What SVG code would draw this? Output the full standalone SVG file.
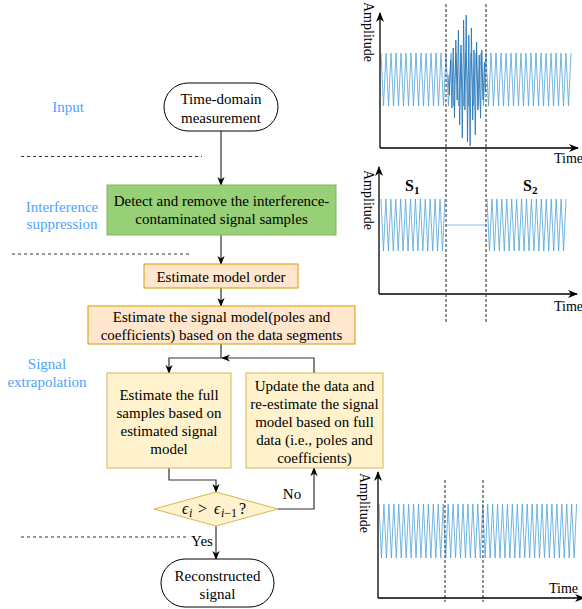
<svg xmlns="http://www.w3.org/2000/svg" width="582" height="609" viewBox="0 0 582 609" font-family="'Liberation Serif','Times New Roman',serif">
<defs>
<style>
text{font-family:"Liberation Serif","Times New Roman",serif;font-size:15px;fill:#000}
.c{text-anchor:middle}
.lbl{fill:#4da3ff;text-anchor:middle}
.ax{font-size:14px}
.m{font-size:16px;font-style:italic}
.s{font-size:12px;font-style:italic}
.term{fill:#fff;stroke:#000;stroke-width:1}
.peach{fill:#ffe6cc;stroke:#d79b00;stroke-width:1}
.yel{fill:#fff2cc;stroke:#d6b656;stroke-width:1}
.grn{fill:#97d077;stroke:#82b366;stroke-width:1}
.edge{fill:none;stroke:#333;stroke-width:1.2;marker-end:url(#ah)}
.sep{fill:none;stroke:#333;stroke-width:1;stroke-dasharray:3 3}
.vd{fill:none;stroke:#555;stroke-width:1.3;stroke-dasharray:3 2}
.axis{fill:none;stroke:#000;stroke-width:1.3;marker-end:url(#ax)}
.wave{fill:none;stroke:#4fa3dc;stroke-width:0.8}
</style>
<marker id="ah" viewBox="0 0 10 10" refX="9" refY="5" markerWidth="9" markerHeight="9" orient="auto" markerUnits="userSpaceOnUse"><path d="M0,1 L10,5 L0,9 L3,5 z" fill="#000"/></marker>
<marker id="ax" viewBox="0 0 10 10" refX="9" refY="5" markerWidth="10" markerHeight="10" orient="auto" markerUnits="userSpaceOnUse"><path d="M0,1 L10,5 L0,9 L3,5 z" fill="#000"/></marker>
</defs>

<!-- stage labels and separators -->
<g id="stages">
<text class="lbl" x="68" y="112">Input</text>
<text class="lbl" x="62" y="212">Interference</text>
<text class="lbl" x="62" y="229">suppression</text>
<text class="lbl" x="47" y="369">Signal</text>
<text class="lbl" x="47" y="387">extrapolation</text>
<path class="sep" d="M21,156.5 H202"/>
<path class="sep" d="M12,254 H192"/>
<path class="sep" d="M21,537 H188"/>
</g>

<g id="connectors">
<path class="edge" d="M221,131 V185"/>
<path class="edge" d="M221,235 V264"/>
<path class="edge" d="M221,288 V306"/>
<path class="edge" d="M221,344 V358 H169 V373"/>
<path class="edge" d="M314,373 V358 H222"/>
<path class="edge" d="M169,468 V480 H216 V492"/>
<path class="edge" d="M278,509 H314 V468"/>
<path class="edge" d="M216,526 V559"/>
<text x="292" y="499" class="c">No</text>
<text x="202" y="546" class="c">Yes</text>
</g>

<g id="start">
<rect class="term" x="164" y="83" width="114" height="48" rx="24"/>
<text class="c" x="221" y="104">Time-domain</text>
<text class="c" x="221" y="123">measurement</text>
</g>

<g id="detect">
<rect class="grn" x="107" y="185" width="229" height="50"/>
<text class="c" x="221.5" y="206">Detect and remove the interference-</text>
<text class="c" x="221.5" y="224">contaminated signal samples</text>
</g>

<g id="order">
<rect class="peach" x="144" y="264" width="154" height="24"/>
<text class="c" x="221" y="282">Estimate model order</text>
</g>

<g id="model">
<rect class="peach" x="88" y="306" width="267" height="38"/>
<text class="c" x="221.5" y="322">Estimate the signal model(poles and</text>
<text class="c" x="221.5" y="340">coefficients) based on the data segments</text>
</g>

<g id="full">
<rect class="yel" x="107" y="373" width="124" height="95"/>
<text class="c" x="169" y="400">Estimate the full</text>
<text class="c" x="169" y="418">samples based on</text>
<text class="c" x="169" y="436">estimated signal</text>
<text class="c" x="169" y="454">model</text>
</g>

<g id="update">
<rect class="yel" x="246" y="373" width="137" height="95"/>
<text class="c" x="314.5" y="391">Update the data and</text>
<text class="c" x="314.5" y="409">re-estimate the signal</text>
<text class="c" x="314.5" y="427">model based on full</text>
<text class="c" x="314.5" y="445">data (i.e., poles and</text>
<text class="c" x="314.5" y="463">coefficients)</text>
</g>

<g id="decision">
<polygon class="yel" points="154,509 216,492 278,509 216,526"/>
<text class="m" x="182" y="514">ϵ</text>
<text class="s" x="189" y="517">i</text>
<text x="198" y="514" style="font-size:16px">&gt;</text>
<text class="m" x="214" y="514">ϵ</text>
<text class="s" x="221" y="517">i<tspan style="font-style:normal">−1</tspan></text>
<text x="239" y="514" style="font-size:16px">?</text>
</g>

<g id="end">
<rect class="term" x="161" y="559" width="113" height="48" rx="24"/>
<text class="c" x="217.5" y="581">Reconstructed</text>
<text class="c" x="217.5" y="599">signal</text>
</g>

<!-- plot 1: measurement with interference -->
<g id="plot1">
<path class="wave" d="M381,53 l2.5,53 2.5,-53 2.5,53 2.5,-53 2.5,53 2.5,-53 2.5,53 2.5,-53 2.5,53 2.5,-53 2.5,53 2.5,-53 2.5,53 2.5,-53 2.5,53 2.5,-53 2.5,53 2.5,-53 2.5,53 2.5,-53 2.5,53 2.5,-53 2.5,53 2.5,-53 2.5,53 2.5,-53 2.5,53 2.5,-53 2.5,53 2.5,-53 2.5,53 2.5,-53 2.5,53 2.5,-53 2.5,53 2.5,-53 2.5,53 2.5,-53 2.5,53 2.5,-53 2.5,53 2.5,-53 2.5,53 2.5,-53 2.5,53 2.5,-53 2.5,53 2.5,-53 2.5,53 2.5,-53 2.5,53 2.5,-53 2.5,53 2.5,-53 2.5,53 2.5,-53 2.5,53 2.5,-53 2.5,53 2.5,-53 2.5,53 2.5,-53 2.5,53 2.5,-53 2.5,53 2.5,-53 2.5,53 2.5,-53 2.5,53 2.5,-53 2.5,53 2.5,-53 2.5,53 2.5,-53 2.5,53 2.5,-53"/>
<path fill="none" stroke="#1f6fb2" stroke-width="0.9" stroke-opacity="0.9" d="M448,75 L449.3,95 450.6,60 451.9,108 453.2,48 454.5,118 455.8,40 457.1,100 458.4,30 459.7,125 461,45 462.3,138 463.6,20 464.9,110 466.2,15 467.5,142 468.8,35 470.1,146 471.4,28 472.7,120 474,50 475.3,135 476.6,42 477.9,110 479.2,55 480.5,118 481.8,50 483.1,100 484.4,62 485.7,92"/>
<path class="axis" d="M380,148 V13"/>
<path class="axis" d="M380,148 H578"/>
<text class="ax" transform="translate(364,2) rotate(90)">Amplitude</text>
<text class="ax" x="554" y="163">Time</text>
</g>

<!-- plot 2: segments -->
<g id="plot2">
<path class="wave" d="M381,199 l2.46,52 2.46,-52 2.46,52 2.46,-52 2.46,52 2.46,-52 2.46,52 2.46,-52 2.46,52 2.46,-52 2.46,52 2.46,-52 2.46,52 2.46,-52 2.46,52 2.46,-52 2.46,52 2.46,-52 2.46,52 2.46,-52 2.46,52 2.46,-52 2.46,52 2.46,-52 2.46,52 2.46,-52"/>
<path class="wave" d="M487,199 l2.47,52 2.47,-52 2.47,52 2.47,-52 2.47,52 2.47,-52 2.47,52 2.47,-52 2.47,52 2.47,-52 2.47,52 2.47,-52 2.47,52 2.47,-52 2.47,52 2.47,-52 2.47,52 2.47,-52 2.47,52 2.47,-52 2.47,52 2.47,-52 2.47,52 2.47,-52 2.47,52 2.47,-52 2.47,52 2.47,-52 2.47,52 2.47,-52 2.47,52 2.47,-52"/>
<path fill="none" stroke="#8cc0e6" stroke-width="1" d="M445,225 H487"/>
<path class="axis" d="M379,294 V167"/>
<path class="axis" d="M379,294 H577"/>
<text class="ax" transform="translate(364,170) rotate(90)">Amplitude</text>
<text class="ax" x="554" y="311">Time</text>
<text x="405" y="191" font-weight="bold" style="font-size:16px">S<tspan style="font-size:11px" dy="3">1</tspan></text>
<text x="523" y="191" font-weight="bold" style="font-size:16px">S<tspan style="font-size:11px" dy="3">2</tspan></text>
</g>

<g id="dividers12">
<path class="vd" d="M446,4 V323"/>
<path class="vd" d="M486,4 V323"/>
</g>

<!-- plot 3: reconstructed -->
<g id="plot3">
<path class="wave" d="M379,504 l2.47,54 2.47,-54 2.47,54 2.47,-54 2.47,54 2.47,-54 2.47,54 2.47,-54 2.47,54 2.47,-54 2.47,54 2.47,-54 2.47,54 2.47,-54 2.47,54 2.47,-54 2.47,54 2.47,-54 2.47,54 2.47,-54 2.47,54 2.47,-54 2.47,54 2.47,-54 2.47,54 2.47,-54 2.47,54 2.47,-54 2.47,54 2.47,-54 2.47,54 2.47,-54 2.47,54 2.47,-54 2.47,54 2.47,-54 2.47,54 2.47,-54 2.47,54 2.47,-54 2.47,54 2.47,-54 2.47,54 2.47,-54 2.47,54 2.47,-54 2.47,54 2.47,-54 2.47,54 2.47,-54 2.47,54 2.47,-54 2.47,54 2.47,-54 2.47,54 2.47,-54 2.47,54 2.47,-54 2.47,54 2.47,-54 2.47,54 2.47,-54 2.47,54 2.47,-54 2.47,54 2.47,-54 2.47,54 2.47,-54 2.47,54 2.47,-54 2.47,54 2.47,-54 2.47,54 2.47,-54 2.47,54 2.47,-54 2.47,54 2.47,-54 2.47,54 2.47,-54"/>
<path class="vd" d="M445,480 V602"/>
<path class="vd" d="M483,480 V602"/>
<path class="axis" d="M378,598 V472"/>
<path class="axis" d="M378,598 H584"/>
<text class="ax" transform="translate(360,473) rotate(90)">Amplitude</text>
<text class="ax" x="549" y="593">Time</text>
</g>
</svg>
